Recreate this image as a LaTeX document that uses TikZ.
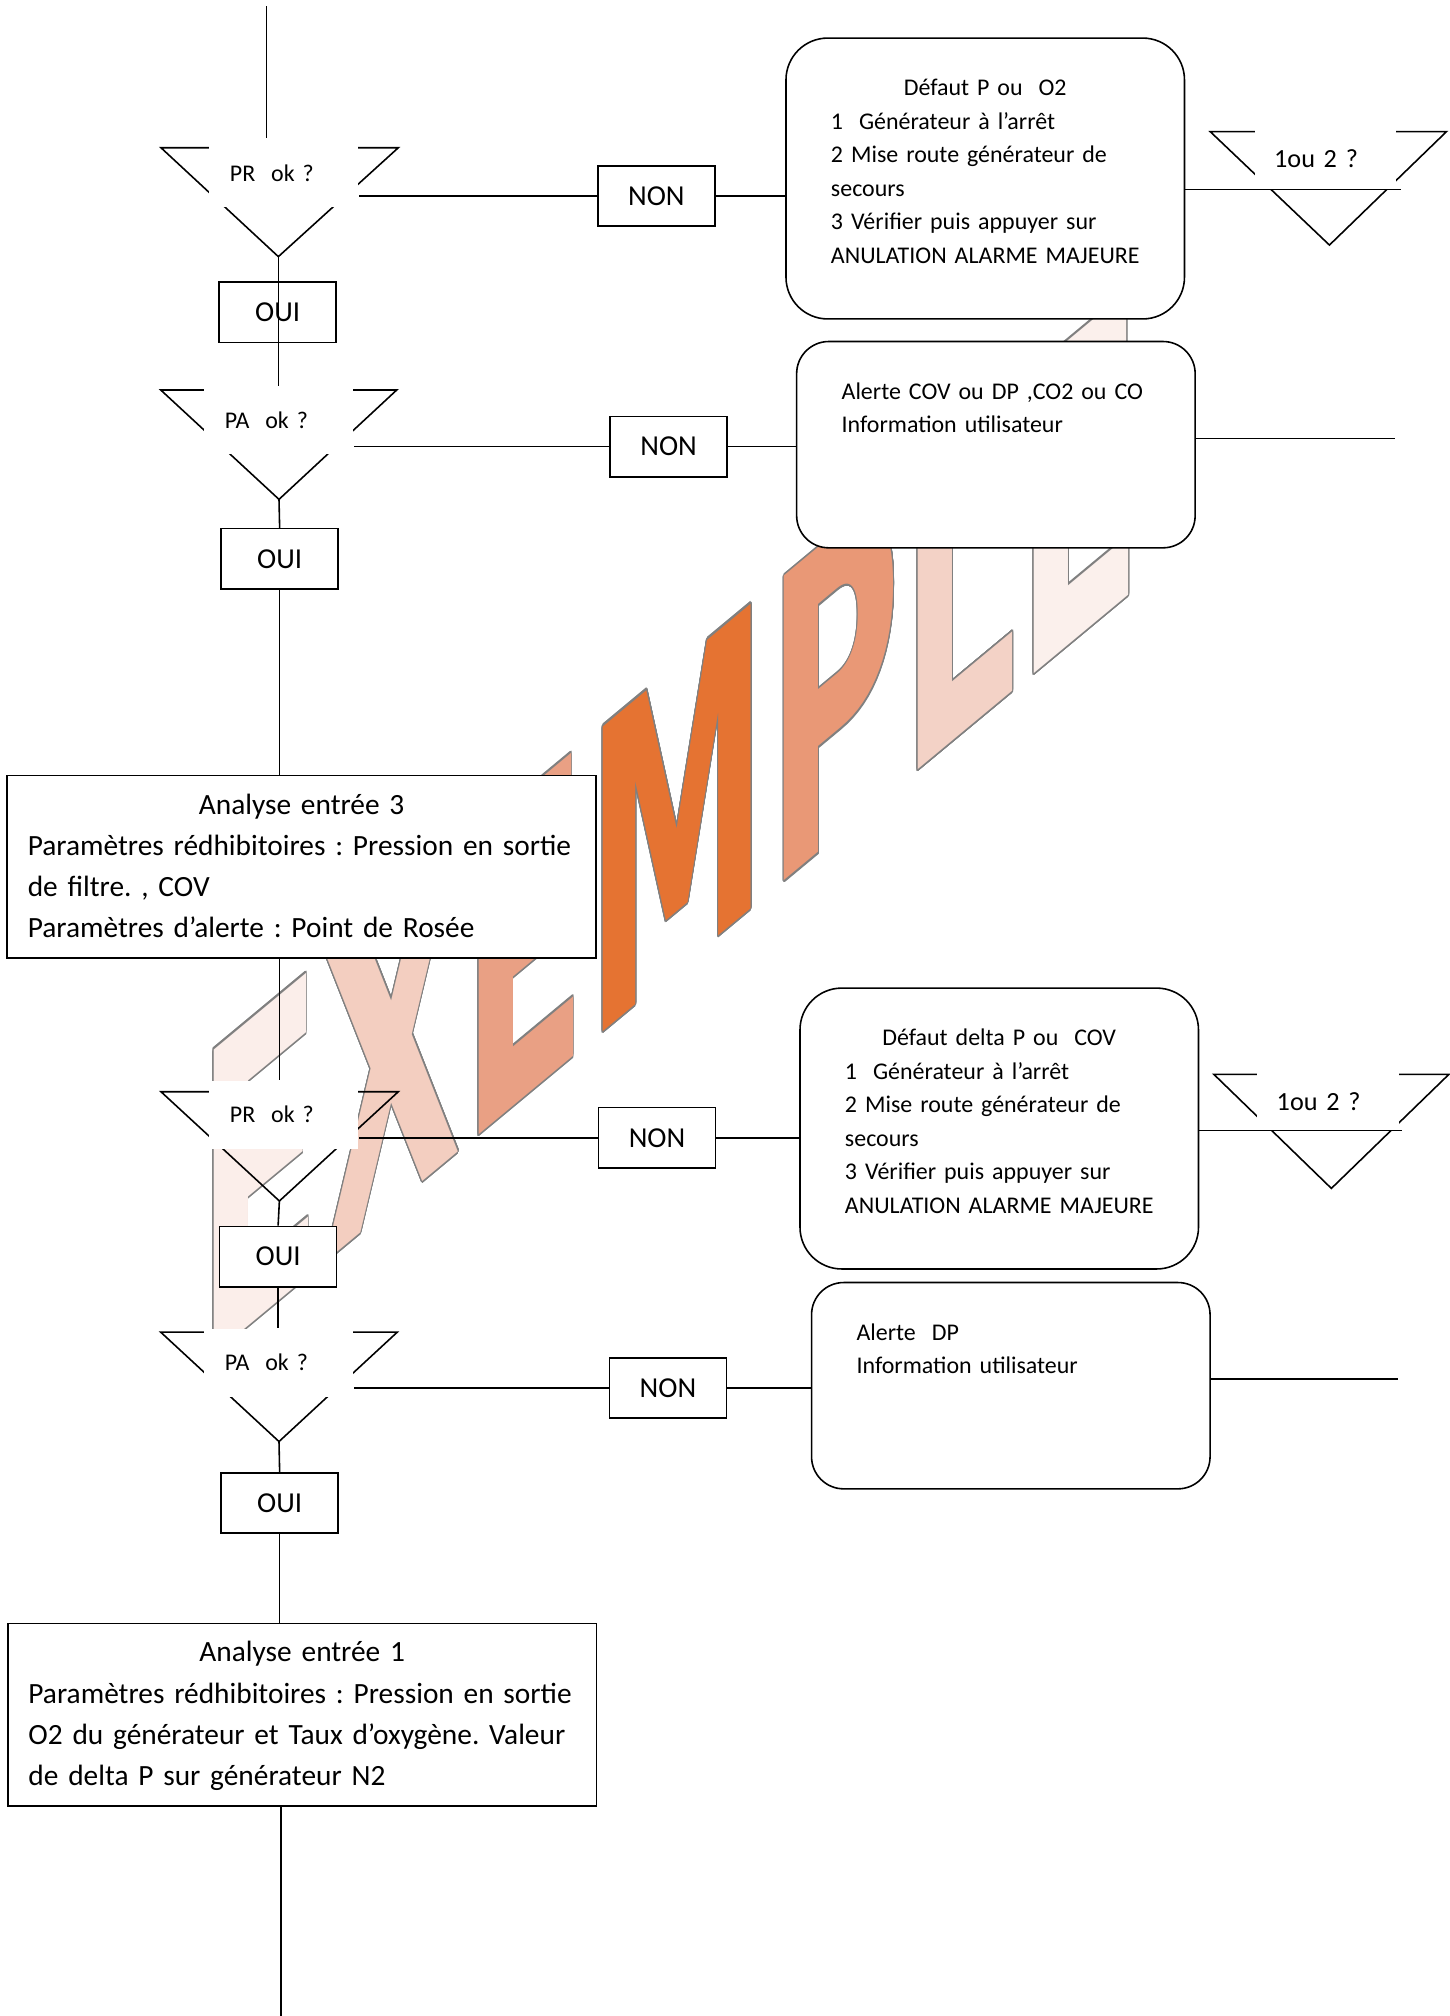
\documentclass[tikz,border=0pt]{standalone}
\usepackage{fontspec}
\usepackage{contour}
\setmainfont{Carlito}
\newfontfamily\wmfont{DejaVu Sans}
\frenchspacing
\hyphenpenalty=10000
\contourlength{0.9pt}
\definecolor{wmA}{RGB}{251,238,234}
\definecolor{wmB}{RGB}{243,206,192}
\definecolor{wmC}{RGB}{233,160,132}
\definecolor{wmD}{RGB}{229,115,50}
\definecolor{wmE}{RGB}{233,152,118}
\definecolor{wmF}{RGB}{243,210,198}
\definecolor{wmG}{RGB}{251,240,236}
\newcommand{\wmletter}[2]{\textcolor{#1}{\contour[24]{black!50}{#2}}}
\newcommand{\setfs}[2]{\fontsize{#1}{#2}\selectfont
  \spaceskip=0.2em plus 0.06em minus 0.04em\relax}

\begin{document}
\begin{tikzpicture}[x=0.02cm, y=-0.02cm, line width=0.7pt,
  lbl/.style={fill=white, align=left, text width=1.68cm, inner xsep=0.32cm,
              inner ysep=0pt, minimum height=1.06cm, font=\setfs{10.6}{13}},
  qlbl/.style={lbl, text width=1.6cm, inner xsep=0.3cm, minimum height=0.94cm,
               font=\setfs{11.6}{14}},
  yn/.style={draw, fill=white, minimum width=1.82cm, minimum height=0.94cm,
             inner sep=0pt, font=\setfs{12.8}{15}},
  defbox/.style={draw, fill=white, rounded corners=0.65cm, anchor=north west,
                 text width=4.8cm, inner xsep=0.7cm, inner ysep=0pt, text height=0.9cm,
                 text depth=3.47cm, font=\setfs{10.6}{14.8}},
  alertbox/.style={defbox, rounded corners=0.5cm, align=left, text depth=2.31cm},
  anabox/.style={draw, fill=white, anchor=north west, text width=8.52cm,
                 inner xsep=0.32cm, inner ysep=0pt, text height=0.6cm, text depth=2.24cm,
                 font=\setfs{13}{18.2}}]
\useasboundingbox (0,0) rectangle (1127,1568);
\begin{scope}[cm={0.436,0.362,0,1,(153,1064.5)}]
\node[transform shape, anchor=base west, inner sep=0pt,
      font=\wmfont\bfseries\fontsize{185}{185}\selectfont] (wm) at (0,0)
  {\wmletter{wmA}{E}\wmletter{wmB}{X}\wmletter{wmC}{E}\wmletter{wmD}{M}\wmletter{wmE}{P}\wmletter{wmF}{L}\wmletter{wmG}{E}};
\end{scope}
\draw (125.2,114.9) -- (309.8,114.9) -- (216.5,199.6) coordinate (v1) -- cycle;
\draw (125,303.3) -- (308.6,303.3) -- (217,388.4) coordinate (v2) -- cycle;
\draw (125.2,849.1) -- (309.8,849.1) -- (217.3,934.1) coordinate (v3) -- cycle;
\draw (125,1036.1) -- (309,1036.1) -- (217,1121.2) coordinate (v4) -- cycle;
\draw (941.3,102.4) -- (1125,102.4) -- (1034,190.6) -- cycle;
\draw (944.1,835.6) -- (1126.9,835.6) -- (1035.5,924.3) -- cycle;
\node[lbl] (pr1) at (220.8,134.4) {PR\ \ ok ?};
\node[lbl] (pa1) at (216.9,327) {PA\ \ ok ?};
\node[lbl] (pr2) at (220.8,867) {PR\ \ ok ?};
\node[lbl] (pa2) at (216.9,1059.8) {PA\ \ ok ?};
\node[qlbl] (q1) at (1031,123.3) {1ou 2 ?};
\node[qlbl] (q2) at (1033,856.5) {1ou 2 ?};
\node[yn] (non1) at (510.5,152.5) {NON};
\node[yn] (oui1) at (216,242.9) {OUI};
\node[yn] (non2) at (520,347.4) {NON};
\node[yn] (oui2) at (217.5,434.7) {OUI};
\node[yn] (non3) at (511,885) {NON};
\node[yn] (oui3) at (216.3,977.4) {OUI};
\node[yn] (non4) at (519.5,1079.5) {NON};
\node[yn] (oui4) at (217.5,1169) {OUI};
\node[defbox] (box1) at (610.7,29)
  {{\centering Défaut P ou\ \ O2\par}1\ \ Générateur à l’arrêt\\2 Mise route générateur de\\secours\\3 Vérifier puis appuyer sur\\\mbox{ANULATION ALARME MAJEURE}};
\node[alertbox] (box2) at (619,265) {Alerte COV ou DP ,CO2 ou CO\\Information utilisateur};
\node[defbox] (box3) at (621.6,767.9)
  {{\centering Défaut delta P ou\ \ COV\par}1\ \ Générateur à l’arrêt\\2 Mise route générateur de\\secours\\3 Vérifier puis appuyer sur\\\mbox{ANULATION ALARME MAJEURE}};
\node[alertbox] (box4) at (630.6,996.9) {Alerte\ \ DP\\Information utilisateur};
\node[anabox] (a3) at (5,602.5)
  {{\centering Analyse entrée 3\par}Paramètres rédhibitoires : Pression en sortie\\de filtre. , COV\\Paramètres d’alerte : Point de Rosée};
\node[anabox] (a1) at (5.5,1262)
  {{\centering Analyse entrée 1\par}Paramètres rédhibitoires : Pression en sortie\\O2 du générateur et Taux d’oxygène. Valeur\\de delta P sur générateur N2};
\coordinate (top) at (207.4,5);
\coordinate (bot) at (218.4,1568);
\coordinate (e1) at (1090,147.3);
\coordinate (e2) at (1085,341);
\coordinate (e3) at (1090.3,879.4);
\coordinate (e4) at (1087,1072.5);
\draw (top) -- (top |- pr1.north);
\draw (v1) -- (v1 |- pa1.north);
\draw (pr1.east |- non1.west) -- (non1.west);
\draw (non1.east) -- (non1.east -| box1.west);
\draw (e1 -| box1.east) -- (e1);
\draw (pa1.east |- non2.west) -- (non2.west);
\draw (non2.east) -- (non2.east -| box2.west);
\draw (e2 -| box2.east) -- (e2);
\draw (v2) -- (oui2.north);
\draw (oui2.south) -- (oui2.south |- a3.north);
\draw (oui2.south |- a3.south) -- (oui2.south |- pr2.north);
\draw (pr2.east |- non3.west) -- (non3.west);
\draw (non3.east) -- (non3.east -| box3.west);
\draw (e3 -| box3.east) -- (e3);
\draw (v3) -- (oui3.north);
\draw (oui3.south) -- (oui3.south |- pa2.north);
\draw (pa2.east |- non4.west) -- (non4.west);
\draw (non4.east) -- (non4.east -| box4.west);
\draw (e4 -| box4.east) -- (e4);
\draw (v4) -- (oui4.north);
\draw (oui4.south) -- (oui4.south |- a1.north);
\draw (bot |- a1.south) -- (bot);
\end{tikzpicture}
\end{document}
